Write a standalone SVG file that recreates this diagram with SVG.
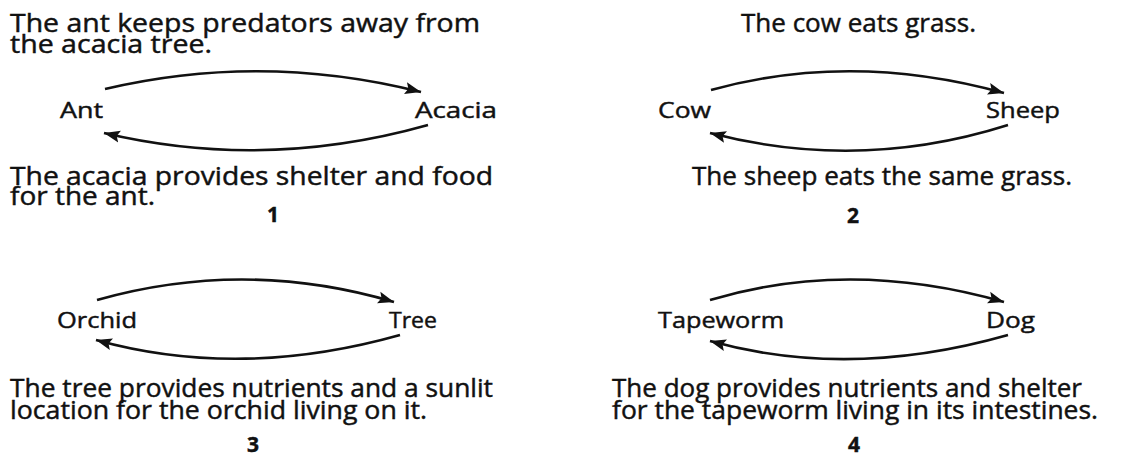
<svg xmlns="http://www.w3.org/2000/svg" width="1146" height="459" viewBox="0 0 1146 459">
<style>
text{font-family:"Open Sans","Noto Sans","Liberation Sans",sans-serif;fill:#111;stroke:#111;stroke-width:0.45}
.d{font-size:25px}
.n{font-size:22px}
.b{font-size:21px;font-weight:bold;text-anchor:middle}
.c{fill:none;stroke:#111;stroke-width:2.6}
</style>
<defs>
<marker id="ah" markerUnits="userSpaceOnUse" markerWidth="18" markerHeight="14" refX="16" refY="6" orient="auto" viewBox="0 0 18 12">
<path d="M0,0 L16,6 L0,12 L3,6 Z" fill="#111"/>
</marker>
</defs>
<rect width="1146" height="459" fill="#fff"/>
<g id="connectors">
<path class="c" marker-end="url(#ah)" d="M105,89 Q262,52 421,92"/>
<path class="c" marker-end="url(#ah)" d="M428,125 Q265,171 104,133"/>
<path class="c" marker-end="url(#ah)" d="M711,90 Q852,51 1004,93"/>
<path class="c" marker-end="url(#ah)" d="M1008,125 Q860,172 710,133"/>
<path class="c" marker-end="url(#ah)" d="M97,300 Q245,258 394,302"/>
<path class="c" marker-end="url(#ah)" d="M400,335 Q240,380 96,340"/>
<path class="c" marker-end="url(#ah)" d="M710,300 Q850,258 1004,302"/>
<path class="c" marker-end="url(#ah)" d="M1008,335 Q850,380 710,341"/>
</g>
<g id="panel1">
<text class="d" x="10" y="32" textLength="470" lengthAdjust="spacingAndGlyphs">The ant keeps predators away from</text>
<text class="d" x="10" y="53" textLength="202" lengthAdjust="spacingAndGlyphs">the acacia tree.</text>
<g id="ant"><text class="n" x="60" y="118" textLength="43" lengthAdjust="spacingAndGlyphs">Ant</text></g>
<g id="acacia"><text class="n" x="415" y="118" textLength="82" lengthAdjust="spacingAndGlyphs">Acacia</text></g>
<text class="d" x="10" y="185" textLength="483" lengthAdjust="spacingAndGlyphs">The acacia provides shelter and food</text>
<text class="d" x="10" y="205" textLength="145" lengthAdjust="spacingAndGlyphs">for the ant.</text>
<text class="b" x="273" y="222">1</text>
</g>
<g id="panel2">
<text class="d" x="741" y="32" textLength="235" lengthAdjust="spacingAndGlyphs">The cow eats grass.</text>
<g id="cow"><text class="n" x="658" y="118" textLength="53" lengthAdjust="spacingAndGlyphs">Cow</text></g>
<g id="sheep"><text class="n" x="986" y="118" textLength="74" lengthAdjust="spacingAndGlyphs">Sheep</text></g>
<text class="d" x="692" y="185" textLength="380" lengthAdjust="spacingAndGlyphs">The sheep eats the same grass.</text>
<text class="b" x="853" y="223">2</text>
</g>
<g id="panel3">
<g id="orchid"><text class="n" x="57" y="328" textLength="80" lengthAdjust="spacingAndGlyphs">Orchid</text></g>
<g id="tree"><text class="n" x="389" y="328" textLength="48" lengthAdjust="spacingAndGlyphs">Tree</text></g>
<text class="d" x="10" y="397" textLength="483" lengthAdjust="spacingAndGlyphs">The tree provides nutrients and a sunlit</text>
<text class="d" x="10" y="419" textLength="417" lengthAdjust="spacingAndGlyphs">location for the orchid living on it.</text>
<text class="b" x="253" y="452">3</text>
</g>
<g id="panel4">
<g id="tapeworm"><text class="n" x="658" y="328" textLength="126" lengthAdjust="spacingAndGlyphs">Tapeworm</text></g>
<g id="dog"><text class="n" x="986" y="328" textLength="49" lengthAdjust="spacingAndGlyphs">Dog</text></g>
<text class="d" x="612" y="397" textLength="470" lengthAdjust="spacingAndGlyphs">The dog provides nutrients and shelter</text>
<text class="d" x="612" y="419" textLength="486" lengthAdjust="spacingAndGlyphs">for the tapeworm living in its intestines.</text>
<text class="b" x="854" y="452">4</text>
</g>
</svg>
